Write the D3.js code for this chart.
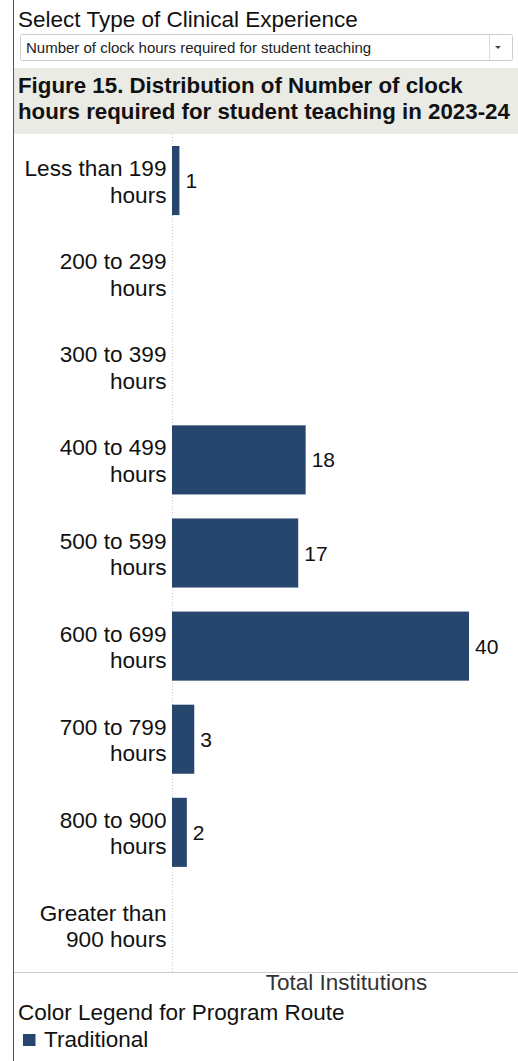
<!DOCTYPE html>
<html><head><meta charset="utf-8">
<script src="https://cdn.jsdelivr.net/npm/d3@7"></script>
<style>
body{margin:0;background:#fff;font-family:Arial,"Liberation Sans",sans-serif;}
svg{display:block;}
</style></head>
<body>
<svg id="c" width="518" height="1061"></svg>
<script>
const categories = [
  ["Less than 199","hours"],
  ["200 to 299","hours"],
  ["300 to 399","hours"],
  ["400 to 499","hours"],
  ["500 to 599","hours"],
  ["600 to 699","hours"],
  ["700 to 799","hours"],
  ["800 to 900","hours"],
  ["Greater than","900 hours"]
];
const values = [1, null, null, 18, 17, 40, 3, 2, null];
const seriesName = "Traditional";
const selectTitle = "Select Type of Clinical Experience";
const dropdownText = "Number of clock hours required for student teaching";
const titleLines = ["Figure 15. Distribution of Number of clock","hours required for student teaching in 2023-24"];
const axisTitle = "Total Institutions";
const legendTitle = "Color Legend for Program Route";

(function(){
const barColor = "#27466e";
const svg = d3.select("#c");
const font = "Arial, 'Liberation Sans', sans-serif";

svg.append("line").attr("x1",13.5).attr("x2",13.5).attr("y1",0).attr("y2",1061)
  .attr("stroke","#555").attr("stroke-width",1);

svg.append("text").attr("x",18).attr("y",26.5).attr("font-size",22.5).attr("font-family",font)
  .attr("fill","#111").text(selectTitle);

svg.append("rect").attr("x",20.5).attr("y",34.5).attr("width",492).attr("height",26)
  .attr("rx",2).attr("fill","#fff").attr("stroke","#ccc");
svg.append("line").attr("x1",489.5).attr("x2",489.5).attr("y1",35).attr("y2",60).attr("stroke","#ddd");
svg.append("text").attr("x",26).attr("y",53).attr("font-size",15).attr("font-family",font)
  .attr("fill","#222").text(dropdownText);
svg.append("path").attr("d","M495,46 L501,46 L498,49 Z").attr("fill","#444");

svg.append("rect").attr("x",14).attr("y",68).attr("width",504).attr("height",66).attr("fill","#ebebe6");
svg.selectAll("text.title").data(titleLines).join("text").attr("class","title")
  .attr("x",18).attr("y",(d,i)=>93+i*26).attr("font-size",22.3).attr("font-weight","bold")
  .attr("font-family",font).attr("fill","#111").text(d=>d);

const plotTop = 134, plotBottom = 972, x0 = 172;
const y = d3.scaleBand().domain(d3.range(categories.length)).range([plotTop,plotBottom]).paddingInner(0.258).paddingOuter(0.129);
const x = d3.scaleLinear().domain([0,46.6]).range([x0,518]);

svg.append("line").attr("x1",x0+0.5).attr("x2",x0+0.5).attr("y1",plotTop).attr("y2",plotBottom)
  .attr("stroke","#ccc").attr("stroke-dasharray","1,2");
svg.append("line").attr("x1",14).attr("x2",518).attr("y1",plotBottom+0.5).attr("y2",plotBottom+0.5)
  .attr("stroke","#ccc");

const g = svg.append("g");
const data = categories.map((c,i)=>({c, v: values[i], i}));

g.selectAll("rect.bar").data(data.filter(d=>d.v!=null)).join("rect").attr("class","bar")
  .attr("x",x(0)).attr("y",d=>y(d.i)).attr("width",d=>x(d.v)-x(0)).attr("height",y.bandwidth())
  .attr("fill",barColor);

g.selectAll("text.val").data(data.filter(d=>d.v!=null)).join("text").attr("class","val")
  .attr("x",d=>x(d.v)+6).attr("y",d=>y(d.i)+y.bandwidth()/2+7.5)
  .attr("font-size",21).attr("font-family",font).attr("fill","#111").text(d=>d.v);

const lab = g.selectAll("text.cat").data(data).join("text").attr("class","cat")
  .attr("text-anchor","end").attr("font-size",22.6).attr("font-family",font).attr("fill","#111");
lab.each(function(d){
  const t = d3.select(this);
  const cy = y(d.i)+y.bandwidth()/2;
  d.c.forEach((line,k)=>{
    t.append("tspan").attr("x",166.5).attr("y",cy-4.5+k*26.5).text(line);
  });
});

svg.append("text").attr("x",346.5).attr("y",990).attr("text-anchor","middle").attr("font-size",22.5)
  .attr("font-family",font).attr("fill","#333").text(axisTitle);

svg.append("text").attr("x",18).attr("y",1020).attr("font-size",22.5)
  .attr("font-family",font).attr("fill","#111").text(legendTitle);
svg.append("rect").attr("x",23).attr("y",1034).attr("width",12.5).attr("height",12).attr("fill",barColor);
svg.append("text").attr("x",44).attr("y",1046.5).attr("font-size",22.5)
  .attr("font-family",font).attr("fill","#111").text(seriesName);
})();
</script>
</body></html>
